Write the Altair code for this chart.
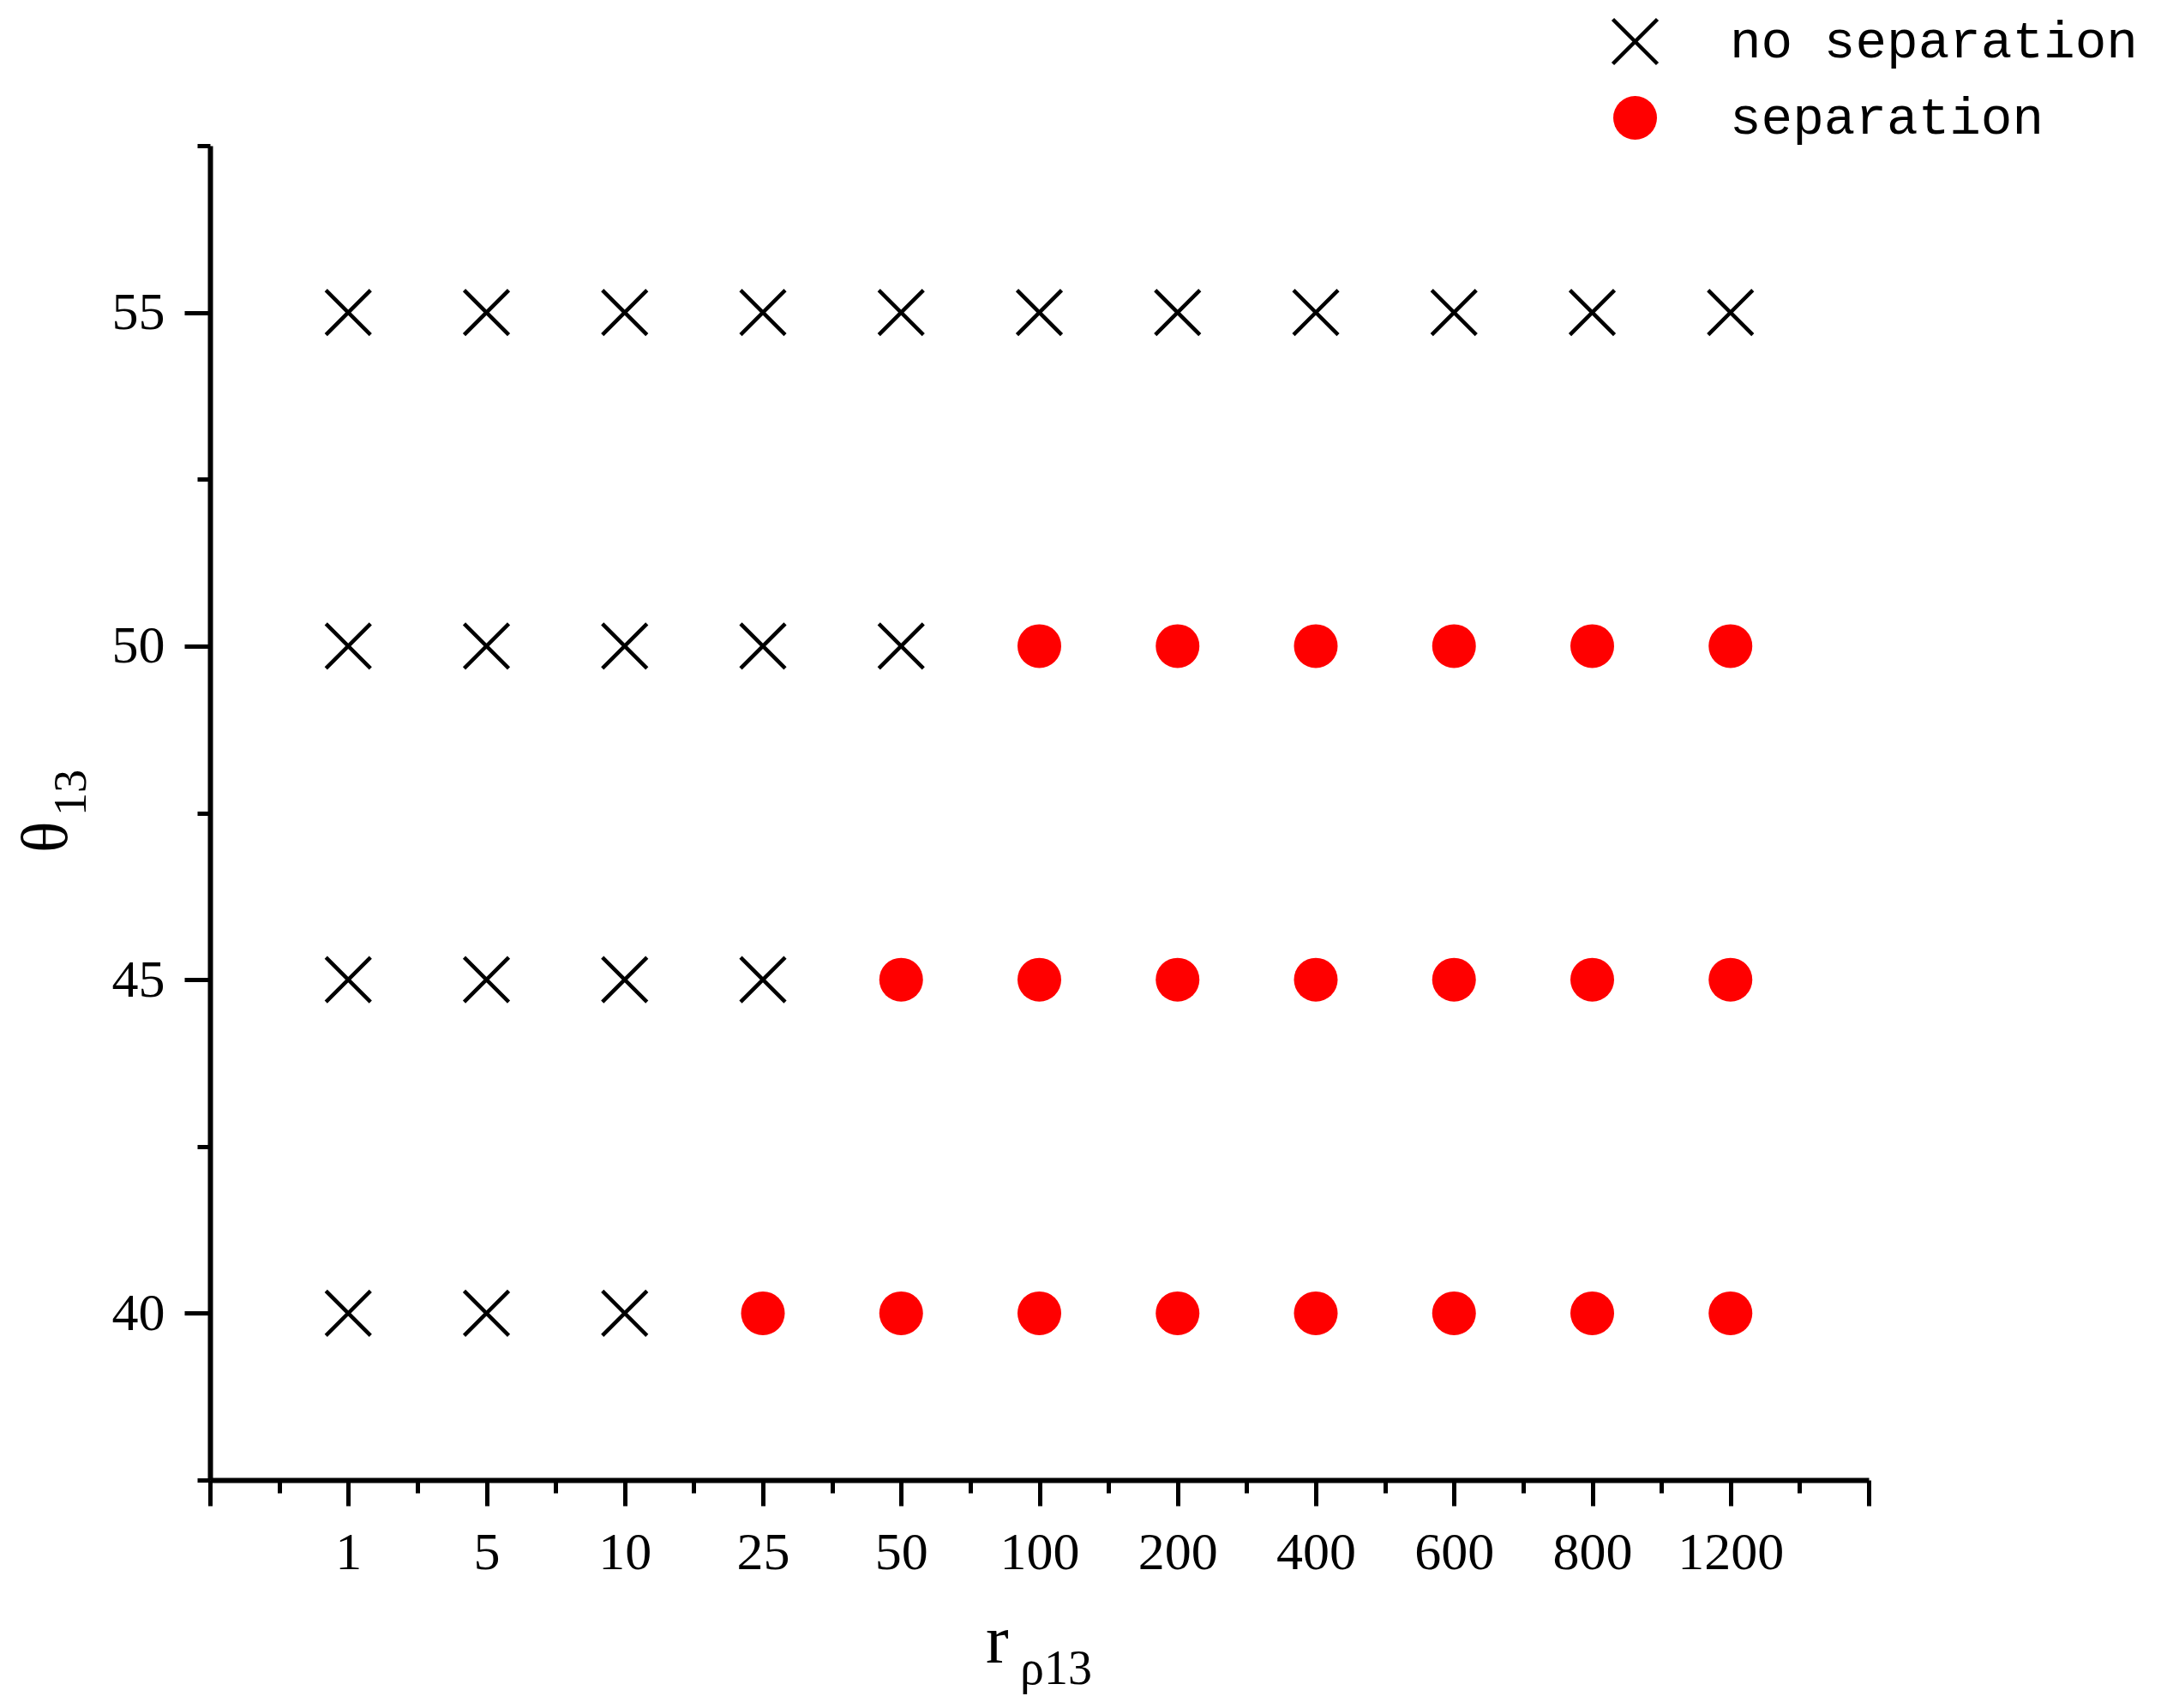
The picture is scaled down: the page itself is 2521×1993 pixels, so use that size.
import json
import altair as alt
import pandas as pd

# ---- data ----
r_labels = ["1", "5", "10", "25", "50", "100", "200", "400", "600", "800", "1200"]
theta_values = [40, 45, 50, 55]
# 1 = separation, 0 = no separation (per theta row, per r category)
sep_40 = [0, 0, 0, 1, 1, 1, 1, 1, 1, 1, 1]
sep_45 = [0, 0, 0, 0, 1, 1, 1, 1, 1, 1, 1]
sep_50 = [0, 0, 0, 0, 0, 1, 1, 1, 1, 1, 1]
sep_55 = [0, 0, 0, 0, 0, 0, 0, 0, 0, 0, 0]
outcome_names = ["no separation", "separation"]

rows = []
for th, flags in zip(theta_values, [sep_40, sep_45, sep_50, sep_55]):
    for i, (lab, f) in enumerate(zip(r_labels, flags)):
        rows.append({"pos": i + 1, "r": lab, "theta": th, "outcome": outcome_names[f]})
df = pd.DataFrame(rows)

x_ticks = [i / 2 for i in range(0, 25)]
y_ticks = [37.5 + 2.5 * i for i in range(9)]
labels_js = json.dumps(r_labels)

cross_path = "M-1.02,-1.02L1.02,1.02M1.02,-1.02L-1.02,1.02"

points = alt.Chart(df).mark_point(opacity=1, strokeWidth=4.5, size=2601).encode(
    x=alt.X("pos:Q", title=None,
            scale=alt.Scale(domain=[0, 12], nice=False, zero=False),
            axis=alt.Axis(values=x_ticks, grid=False,
                          tickSize={"condition": {"test": "datum.value % 1 === 0", "value": 30}, "value": 15},
                          labelExpr=f"(datum.value % 1 === 0 && datum.value >= 1 && datum.value <= 11) ? {labels_js}[datum.value - 1] : ''",
                          labelPadding=24, labelOverlap=False, labelFlush=False)),
    y=alt.Y("theta:Q", title=None,
            scale=alt.Scale(domain=[37.5, 57.5], nice=False, zero=False),
            axis=alt.Axis(values=y_ticks, grid=False,
                          tickSize={"condition": {"test": "datum.value % 5 === 0", "value": 30}, "value": 15},
                          labelExpr="datum.value % 5 === 0 ? datum.value : ''",
                          labelPadding=23, labelOverlap=False, labelFlush=False)),
    shape=alt.Shape("outcome:N", scale=alt.Scale(domain=outcome_names, range=[cross_path, "circle"]),
                    legend=alt.Legend(title=None, orient="none", legendX=1632, legendY=-152,
                                      labelFont="Liberation Mono", labelFontSize=61, labelColor="black",
                                      labelLimit=0,
                                      symbolSize=2601, symbolStrokeWidth=4.5, labelOffset=80,
                                      rowPadding=19, padding=0, symbolOpacity=1)),
    fill=alt.Fill("outcome:N", scale=alt.Scale(domain=outcome_names, range=["transparent", "#ff0000"])),
    stroke=alt.Stroke("outcome:N", scale=alt.Scale(domain=outcome_names, range=["#000000", "transparent"])),
)

def txt(s, x, y, size, angle=0):
    return alt.Chart(alt.Data(values=[{"t": s}])).mark_text(
        font="Liberation Serif", fontSize=size, align="left", baseline="alphabetic",
        angle=angle, color="black"
    ).encode(x=alt.value(x), y=alt.value(y), text="t:N")

title_layers = [
    txt("r", 905, 1770, 80),
    txt("ρ13", 945, 1795, 56),
    txt("θ", -167, 825, 76, 270),
    txt("13", -145, 782, 54, 270),
]

chart = alt.layer(points, *title_layers).properties(
    width=1935, height=1557,
    background="white",
    autosize=alt.AutoSizeParams(type="none"),
    padding={"left": 237, "top": 162, "right": 325, "bottom": 255},
).configure_view(stroke=None).configure_axis(
    grid=False, domainColor="black", domainWidth=6, tickColor="black", tickWidth=5,
    labelFont="Liberation Serif", labelFontSize=62, labelColor="black",
)

chart.save("out.html", embed_options={"renderer": "svg", "actions": False})
